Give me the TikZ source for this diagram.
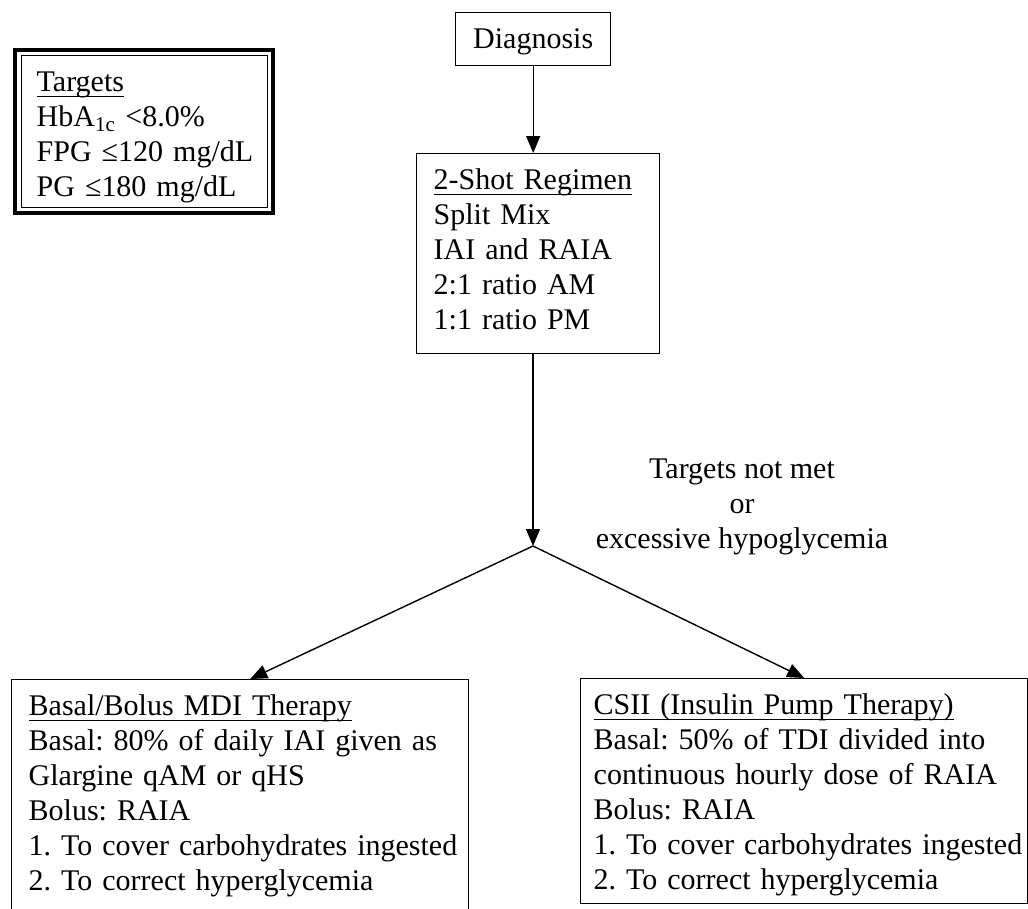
\documentclass[tikz,border=0pt]{standalone}
\usepackage{fontspec}
\setmainfont{Liberation Serif}
\usetikzlibrary{arrows.meta}
\frenchspacing
\newsavebox\ulbox
\newcommand\undl[1]{\sbox\ulbox{#1}\rlap{\rule[-5.5pt]{\wd\ulbox}{1.4pt}}\usebox\ulbox}

\begin{document}
\begin{tikzpicture}[x=1pt, y=-1pt, line width=1.4pt,
        >={Triangle[length=17pt,width=14pt]},
        txt/.style={font=\fontsize{30}{35}\selectfont},
        flowbox/.style={draw, txt, anchor=north west, align=left,
            inner xsep=17pt, inner ysep=0pt,
            execute at begin node={\noindent\rule{0pt}{36pt}},
            execute at end node={\rule[-#1]{0pt}{#1}}}]
        \clip (0,0) rectangle (1028,908);

        % Targets
        \node[flowbox=11pt, inner xsep=15pt, text width=216pt] (targets) at (21,55)
            {\undl{Targets}\\HbA\textsubscript{1c} <8.0\%\\\mbox{FPG ≤120 mg/dL}\\\mbox{PG ≤180 mg/dL}};
        \draw[line width=4pt] ([shift={(-6,-5)}]targets.north west) rectangle ([shift={(5,5)}]targets.south east);

        % Diagnosis and 2-shot regimen
        \node[flowbox=17pt, align=center, inner xsep=10pt, text width=135pt] (diag) at (455,12) {Diagnosis};
        \node[flowbox=24pt, text width=209pt] (shot) at (416,153)
            {\undl{2-Shot Regimen}\\Split Mix\\IAI and RAIA\\2:1 ratio AM\\1:1 ratio PM};
        \draw[->] (diag.south) -- (diag.south |- shot.north);

        % Targets not met
        \node[txt, align=center] (note) at (742,507) {Targets not met\\or\\excessive hypoglycemia};
        \coordinate (split) at (533,546);
        \draw[->] (shot.south -| split) -- (split);

        % Therapies
        \node[flowbox=23pt, text width=423pt] (mdi) at (11,679)
            {\undl{Basal/Bolus MDI Therapy}\\\mbox{Basal: 80\% of daily IAI given as}\\Glargine qAM or qHS\\Bolus: RAIA\\\mbox{1. To cover carbohydrates ingested}\\\mbox{2. To correct hyperglycemia}};
        \node[flowbox=14pt, inner xsep=13pt, text width=421pt] (csii) at (580,678)
            {\undl{CSII (Insulin Pump Therapy)}\\\mbox{Basal: 50\% of TDI divided into}\\\mbox{continuous hourly dose of RAIA}\\Bolus: RAIA\\\mbox{1. To cover carbohydrates ingested}\\\mbox{2. To correct hyperglycemia}};
        \draw[->] (split) -- ([xshift=10pt]mdi.north);
        \draw[->] (split) -- (csii.north);
    \end{tikzpicture}
\end{document}
